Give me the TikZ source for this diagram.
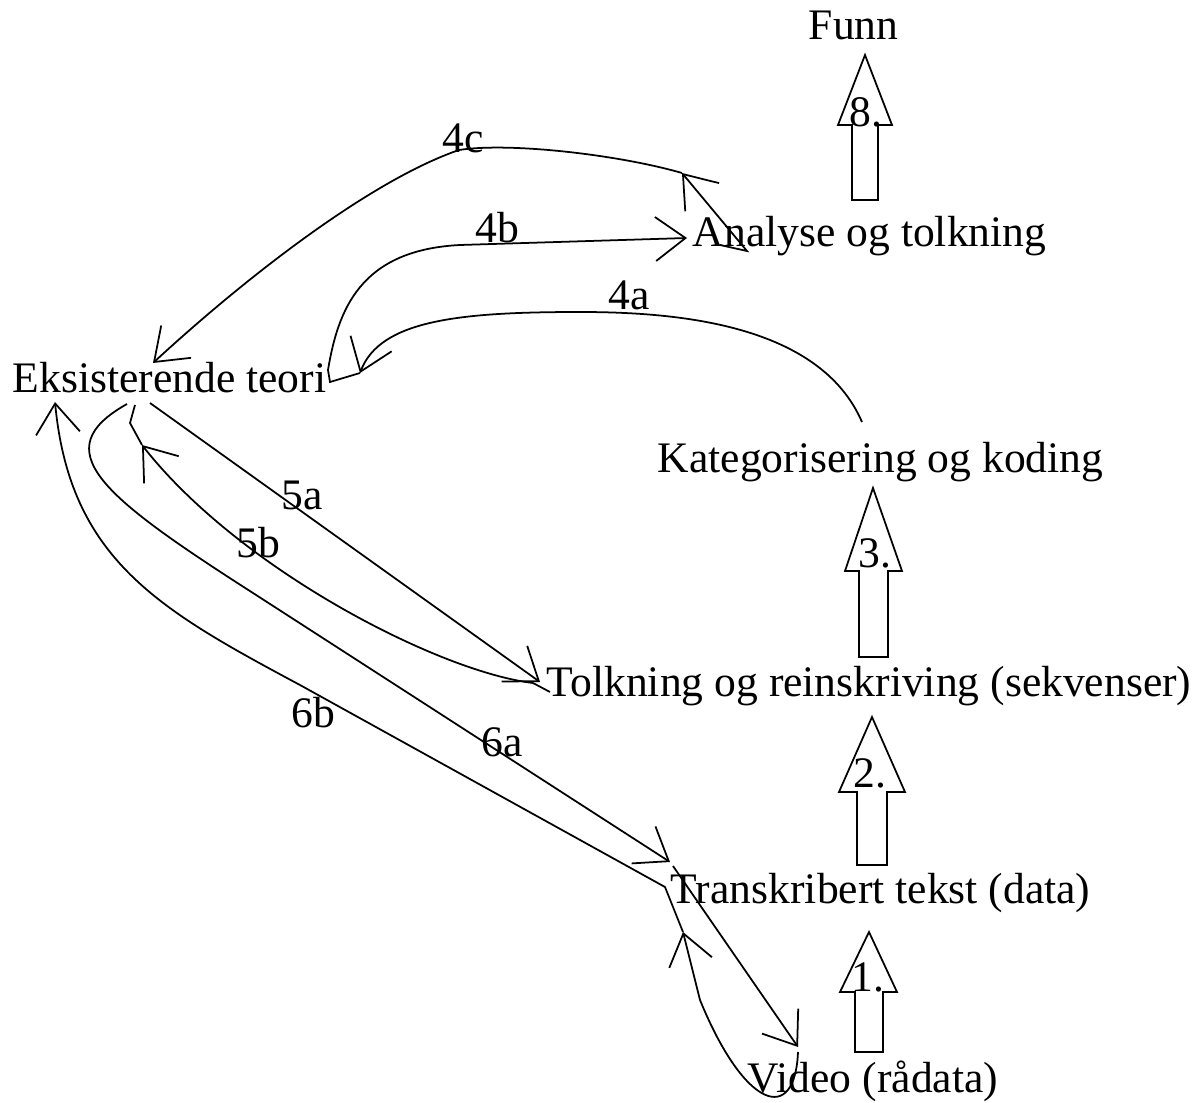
\documentclass[tikz,border=0pt]{standalone}
\usepackage{fontspec}
\setmainfont{Liberation Serif}
\usetikzlibrary{arrows.meta}

\tikzset{
	txt/.style={anchor=base west, inner sep=0pt},
	num/.style={inner sep=0pt},
	blockarrow/.style={draw, line join=miter, fill=white}
}

\begin{document}
\begin{tikzpicture}[x=1cm, y=-1cm, line width=0.5pt, >={Straight Barb[length=3mm,width=4.4mm]}, font=\fontsize{12.4}{15}\selectfont]
	\useasboundingbox (0, 0) rectangle (12, 11.03);

	% Tekstfelt
	\node[txt] (funn)    at (8.08, 0.40)  {Funn};
	\node[txt] (analyse) at (6.92, 2.47)  {Analyse og tolkning};
	\node[txt] (teori)   at (0.12, 3.93)  {Eksisterende teori};
	\node[txt] (kat)     at (6.57, 4.73)  {Kategorisering og koding};
	\node[txt] (tolk)    at (5.46, 6.97)  {Tolkning og reinskriving (sekvenser)};
	\node[txt] (trans)   at (6.70, 9.03)  {Transkribert tekst (data)};
	\node[txt] (video)   at (7.47, 10.93) {Video (rådata)};

	% Endepunkt for kurvene
	\coordinate (analyse-a) at (7.20, 2.45);
	\coordinate (analyse-b) at (6.87, 2.38);
	\coordinate (teori-c)   at (1.53, 3.63);
	\coordinate (teori-r)   at (3.60, 3.73);
	\coordinate (teori-a)   at (1.50, 4.03);
	\coordinate (teori-b)   at (1.35, 4.05);
	\coordinate (teori-6a)  at (1.27, 4.04);
	\coordinate (teori-6b)  at (0.55, 4.02);
	\coordinate (kat-t)     at (8.62, 4.22);
	\coordinate (tolk-a)    at (5.40, 6.82);
	\coordinate (tolk-b)    at (5.50, 6.92);
	\coordinate (trans-a)   at (6.70, 8.62);
	\coordinate (trans-b)   at (6.83, 9.32);
	\coordinate (video-a)   at (7.98, 10.47);
	\coordinate (video-b)   at (7.98, 10.52);

	% Blokkpiler 1., 2., 3. og 8.
	\draw[blockarrow] (8.55, 10.52) -- (8.55, 9.92) -- (8.40, 9.92) -- (8.69, 9.32) -- (8.97, 9.92) -- (8.83, 9.92) -- (8.83, 10.52) -- cycle;
	\draw[blockarrow] (8.57, 8.65) -- (8.57, 7.92) -- (8.39, 7.92) -- (8.72, 7.17) -- (9.05, 7.92) -- (8.87, 7.92) -- (8.87, 8.65) -- cycle;
	\draw[blockarrow] (8.59, 6.57) -- (8.59, 5.71) -- (8.45, 5.71) -- (8.73, 4.88) -- (9.02, 5.71) -- (8.88, 5.71) -- (8.88, 6.57) -- cycle;
	\draw[blockarrow] (8.52, 2.00) -- (8.52, 1.25) -- (8.38, 1.25) -- (8.65, 0.55) -- (8.92, 1.25) -- (8.78, 1.25) -- (8.78, 2.00) -- cycle;

	\node[num] (n1) at (8.68, 9.77) {1.};
	\node[num] (n2) at (8.70, 7.73) {2.};
	\node[num] (n3) at (8.75, 5.53) {3.};
	\node[num] (n8) at (8.66, 1.12) {8.};

	% 4a: Kategorisering -> teori
	\draw[->] (kat-t) .. controls (8.2, 3.25) and (6.8, 3.12) .. (5.8, 3.12) .. controls (4.6, 3.12) and (3.8, 3.2) .. (teori-r);
	% 4b: teori -> Analyse
	\draw[->] (teori-r) -- (3.30, 3.82) -- (3.28, 3.70) .. controls (3.38, 3.1) and (3.6, 2.5) .. (4.6, 2.45) -- (analyse-b);
	% 4c: Analyse -> teori
	\draw[->] (analyse-a) -- (7.47, 2.51) -- (6.82, 1.73);
	\draw[->] (6.82, 1.73) .. controls (6.2, 1.55) and (5.1, 1.42) .. (4.59, 1.50) .. controls (3.69, 1.81) and (2.43, 2.80) .. (teori-c);

	% 5a og 5b
	\draw[->] (teori-a) -- (tolk-a);
	\draw[->] (tolk-b) -- (5.33, 6.83) .. controls (4.4, 6.72) and (2.4, 5.7) .. (1.42, 4.45);
	\draw (1.42, 4.45) -- (1.30, 4.23) -- (teori-b);

	% 6a: teori -> Transkribert -> Video
	\draw[->] (teori-6a) .. controls (0.45, 4.5) and (1.0, 4.95) .. (2.53, 5.93) -- (trans-a);
	\draw[->] (6.73, 8.66) -- (video-a);
	% 6b: Video -> Transkribert -> teori
	\draw[->] (video-b) .. controls (7.95, 11.25) and (7.45, 11.1) .. (7.0, 10.0) -- (trans-b);
	\draw[->] (trans-b) -- (6.65, 8.87) -- (3.0, 6.85) .. controls (1.6, 6.1) and (0.7, 5.6) .. (teori-6b);

	% Etiketter
	\node (l4c) at (4.63, 1.38) {4c};
	\node (l4b) at (4.97, 2.28) {4b};
	\node (l4a) at (6.29, 2.95) {4a};
	\node (l5a) at (3.02, 4.95) {5a};
	\node (l5b) at (2.58, 5.43) {5b};
	\node (l6b) at (3.13, 7.13) {6b};
	\node (l6a) at (5.02, 7.42) {6a};
\end{tikzpicture}
\end{document}
